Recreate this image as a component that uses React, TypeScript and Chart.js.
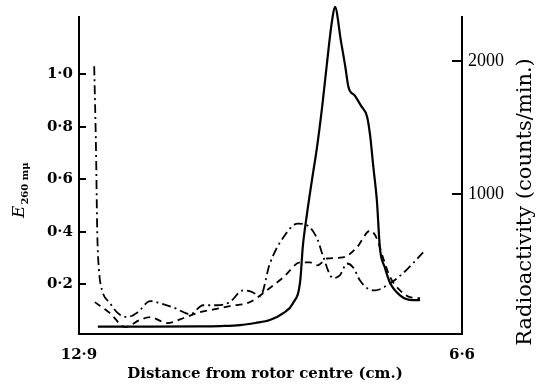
import React, { useEffect, useRef } from 'react';
import { Chart, registerables } from 'chart.js';

Chart.register(...registerables);

// Axis ticks
const xTickValues = [12.9, 6.6];
const xTickLabels = ['12·9', '6·6'];
const leftTickValues = [0.2, 0.4, 0.6, 0.8, 1.0];
const leftTickLabels = ['0·2', '0·4', '0·6', '0·8', '1·0'];
const rightTickValues = [1000, 2000];
const rightTickLabels = ['1000', '2000'];

// Radioactivity (counts/min.) — solid line
const radioX = [12.59, 11.73, 10.91, 10.58, 10.25, 10.0, 9.76, 9.54, 9.38, 9.26, 9.22, 9.15, 9.07, 8.98, 8.89, 8.8, 8.74, 8.69, 8.59, 8.52, 8.47, 8.36, 8.26, 8.16, 8.11, 8.06, 8.0, 7.95, 7.87, 7.78, 7.62, 7.41, 7.29];
const radioY = [0, 0, 2, 5, 12, 28, 50, 102, 177, 350, 597, 850, 1100, 1370, 1700, 2075, 2300, 2412, 2150, 1962, 1812, 1740, 1665, 1582, 1437, 1212, 950, 592, 447, 327, 237, 200, 200];

// E260 — dashed line
const dashX = [12.64, 12.39, 12.14, 11.9, 11.73, 11.45, 11.14, 10.91, 10.66, 10.42, 10.09, 9.81, 9.54, 9.26, 9.1, 8.98, 8.82, 8.56, 8.33, 8.11, 8.0, 7.9, 7.78, 7.62, 7.46, 7.29];
const dashY = [0.132, 0.09, 0.037, 0.064, 0.075, 0.052, 0.075, 0.094, 0.105, 0.117, 0.132, 0.177, 0.226, 0.283, 0.283, 0.272, 0.298, 0.302, 0.34, 0.404, 0.374, 0.302, 0.226, 0.177, 0.151, 0.147];

// E260 — dash-dot line
const dotX = [12.65, 12.62, 12.6, 12.57, 12.52, 12.39, 12.26, 12.11, 11.93, 11.73, 11.57, 11.32, 11.07, 10.86, 10.63, 10.42, 10.2, 10.05, 9.92, 9.76, 9.54, 9.3, 9.1, 8.97, 8.9, 8.72, 8.61, 8.49, 8.39, 8.28, 8.16, 8.03, 7.78, 7.57, 7.41, 7.24];
const dotY = [1.03, 0.71, 0.4, 0.25, 0.177, 0.128, 0.09, 0.075, 0.094, 0.136, 0.128, 0.109, 0.086, 0.12, 0.12, 0.132, 0.177, 0.17, 0.154, 0.279, 0.378, 0.431, 0.416, 0.367, 0.317, 0.223, 0.234, 0.279, 0.264, 0.215, 0.185, 0.177, 0.204, 0.242, 0.279, 0.321];

const W = 542;
const H = 387;

const decor = {
  id: 'decor',
  afterDraw(chart: any) {
    const { ctx, chartArea: ca, scales } = chart;
    ctx.save();
    ctx.strokeStyle = '#000';
    ctx.lineWidth = 2;
    ctx.beginPath();
    scales.y.ticks.forEach((t: any) => {
      const py = Math.round(scales.y.getPixelForValue(t.value));
      ctx.moveTo(ca.left, py);
      ctx.lineTo(ca.left + 7, py);
    });
    scales.y1.ticks.forEach((t: any) => {
      const py = Math.round(scales.y1.getPixelForValue(t.value));
      ctx.moveTo(ca.right - 10, py);
      ctx.lineTo(ca.right, py);
    });
    ctx.stroke();

    ctx.fillStyle = '#000';
    // x title
    ctx.font = 'bold 15px "DejaVu Serif"';
    ctx.textAlign = 'center';
    ctx.textBaseline = 'middle';
    ctx.fillText('Distance from rotor centre (cm.)', 265, 374);

    // right title
    ctx.save();
    ctx.translate(526, 202);
    ctx.rotate(-Math.PI / 2);
    ctx.font = '21px "DejaVu Serif"';
    ctx.textAlign = 'center';
    ctx.textBaseline = 'middle';
    ctx.fillText('Radioactivity (counts/min.)', 0, 0);
    ctx.restore();

    // left title: E with subscript 260 mμ
    ctx.save();
    ctx.translate(24, 218);
    ctx.rotate(-Math.PI / 2);
    ctx.textAlign = 'left';
    ctx.textBaseline = 'alphabetic';
    ctx.font = 'italic 17px "DejaVu Serif"';
    ctx.fillText('E', 0, 0);
    const ew = ctx.measureText('E').width;
    ctx.font = 'bold 10px "DejaVu Serif"';
    ctx.fillText('260 mμ', ew + 1, 4);
    ctx.restore();

    ctx.restore();
  },
};

export default function App() {
  const ref = useRef<HTMLCanvasElement>(null);
  useEffect(() => {
    if (!ref.current) return;
    const tickFontBold = { family: 'DejaVu Serif', weight: 'bold' as const, size: 15 };
    const chart = new Chart(ref.current, {
      type: 'line',
      data: {
        datasets: [
          {
            label: 'Radioactivity',
            data: radioX.map((x, i) => ({ x, y: radioY[i] })),
            yAxisID: 'y1',
            borderColor: '#000',
            borderWidth: 2.2,
            pointRadius: 0,
            cubicInterpolationMode: 'monotone',
            clip: false as any,
          },
          {
            label: 'E260 (dashed)',
            data: dashX.map((x, i) => ({ x, y: dashY[i] })),
            yAxisID: 'y',
            borderColor: '#000',
            borderWidth: 1.8,
            borderDash: [7, 5],
            pointRadius: 0,
            cubicInterpolationMode: 'monotone',
            clip: false as any,
          },
          {
            label: 'E260 (dash-dot)',
            data: dotX.map((x, i) => ({ x, y: dotY[i] })),
            yAxisID: 'y',
            borderColor: '#000',
            borderWidth: 1.8,
            borderDash: [9, 4, 2, 4],
            pointRadius: 0,
            cubicInterpolationMode: 'monotone',
            clip: false as any,
          },
        ],
      },
      options: {
        responsive: false,
        animation: false,
        devicePixelRatio: 1,
        layout: { padding: { top: 15, left: 0, right: 0, bottom: 0 } },
        plugins: { legend: { display: false }, tooltip: { enabled: false } },
        scales: {
          x: {
            type: 'linear',
            reverse: true,
            min: 6.6,
            max: 12.9,
            grid: { display: false, drawTicks: false },
            border: { display: true, color: '#000', width: 2 },
            afterBuildTicks: (s: any) => {
              s.ticks = xTickValues.map((v) => ({ value: v }));
            },
            afterFit: (s: any) => {
              s.height = H - 334;
            },
            ticks: {
              autoSkip: false,
              maxRotation: 0,
              padding: 12,
              color: '#000',
              font: tickFontBold,
              callback: (v: any) => {
                const i = xTickValues.indexOf(Number(v));
                return i >= 0 ? xTickLabels[i] : '';
              },
            },
          },
          y: {
            type: 'linear',
            position: 'left',
            min: 0.0106,
            max: 1.218,
            grid: { display: false, drawTicks: false },
            border: { display: true, color: '#000', width: 2 },
            afterBuildTicks: (s: any) => {
              s.ticks = leftTickValues.map((v) => ({ value: v }));
            },
            afterFit: (s: any) => {
              s.width = 79;
            },
            ticks: {
              padding: 6,
              color: '#000',
              font: tickFontBold,
              callback: (v: any) => {
                const i = leftTickValues.findIndex((t) => Math.abs(t - Number(v)) < 1e-6);
                return i >= 0 ? leftTickLabels[i] : '';
              },
            },
          },
          y1: {
            type: 'linear',
            position: 'right',
            min: -55,
            max: 2337,
            grid: { display: false, drawTicks: false },
            border: { display: true, color: '#000', width: 2 },
            afterBuildTicks: (s: any) => {
              s.ticks = rightTickValues.map((v) => ({ value: v }));
            },
            afterFit: (s: any) => {
              s.width = W - 462;
            },
            ticks: {
              padding: 6,
              color: '#000',
              font: { family: 'Liberation Serif', size: 18 },
              callback: (v: any) => {
                const i = rightTickValues.indexOf(Number(v));
                return i >= 0 ? rightTickLabels[i] : '';
              },
            },
          },
        },
      },
      plugins: [decor],
    });
    return () => chart.destroy();
  }, []);

  return (
    <div style={{ position: 'absolute', left: 0, top: 0, width: W, height: H, background: '#fff' }}>
      <canvas ref={ref} width={W} height={H} style={{ display: 'block' }} />
    </div>
  );
}
